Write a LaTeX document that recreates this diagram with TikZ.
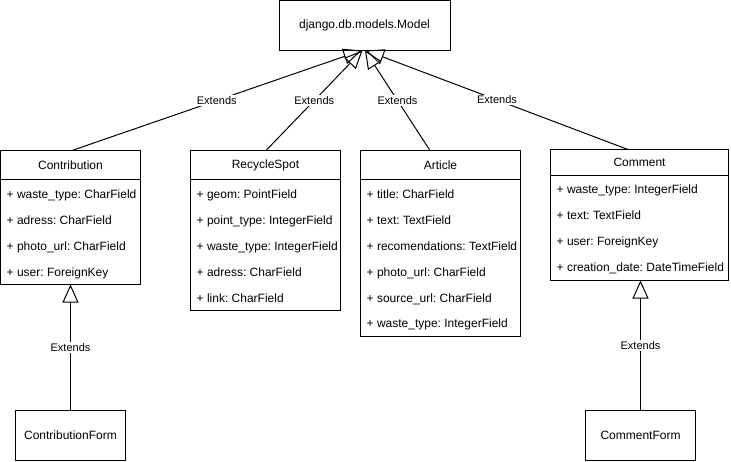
\documentclass[tikz,border=0pt]{standalone}
\usepackage{fontspec}
\setmainfont{Liberation Sans}
\usepackage{tikz}
\usetikzlibrary{positioning,arrows.meta,calc}
\frenchspacing

\begin{document}
\begin{tikzpicture}[x=1pt,y=-1pt,
  font=\fontsize{12}{14}\selectfont,
  box/.style={draw,line width=1pt,inner sep=0pt,outer sep=0pt},
  head/.style 2 args={box,anchor=north west,minimum width=#1,minimum height=#2},
  body/.style 2 args={box,anchor=north west,minimum width=#1,minimum height=#2},
  field/.style={anchor=west,inner sep=0pt,text height=8.6pt,text depth=0pt},
  lbl/.style={fill=white,inner sep=1pt,font=\fontsize{11}{13}\selectfont},
  ext/.style={-{Triangle[open,length=18pt,width=16pt]},line width=1pt}]
  \useasboundingbox (0,0) rectangle (731,461);

  \node[box,anchor=north west,minimum width=171,minimum height=50] (model) at (279,0.5)
    {django.db.models.Model};

  % model classes
  \node[head={140}{29}] (contribution) at (0.5,150.5) {Contribution};
  \node[body={140}{105}] (contribution-b) at (contribution.south west) {};
  \foreach \f [count=\i] in {+ waste\_type: CharField,+ adress: CharField,
      + photo\_url: CharField,+ user: ForeignKey}
    \node[field] (contribution-\i) at ($(contribution-b.north west)+(6,15+25.8*\i-25.8)$) {\f};

  \node[head={150}{29}] (recyclespot) at (190.5,150.5) {RecycleSpot};
  \node[body={150}{131}] (recyclespot-b) at (recyclespot.south west) {};
  \foreach \f [count=\i] in {+ geom: PointField,+ point\_type: IntegerField,
      + waste\_type: IntegerField,+ adress: CharField,+ link: CharField}
    \node[field] (recyclespot-\i) at ($(recyclespot-b.north west)+(6,15+25.8*\i-25.8)$) {\f};

  \node[head={160}{29}] (article) at (360.5,150.5) {Article};
  \node[body={160}{157}] (article-b) at (article.south west) {};
  \foreach \f [count=\i] in {+ title: CharField,+ text: TextField,
      + recomendations: TextField,+ photo\_url: CharField,+ source\_url: CharField,
      + waste\_type: IntegerField}
    \node[field] (article-\i) at ($(article-b.north west)+(6,15+25.8*\i-25.8)$) {\f};

  \node[head={178}{26}] (comment) at (550.5,149.5) {Comment};
  \node[body={178}{105}] (comment-b) at (comment.south west) {};
  \foreach \f [count=\i] in {+ waste\_type: IntegerField,+ text: TextField,
      + user: ForeignKey,+ creation\_date: DateTimeField}
    \node[field] (comment-\i) at ($(comment-b.north west)+(6,14+25.8*\i-25.8)$) {\f};

  % forms
  \node[box,anchor=north west,minimum width=110,minimum height=50] (contributionform)
    at (15.5,410.5) {ContributionForm};
  \node[box,anchor=north west,minimum width=110,minimum height=50] (commentform)
    at (585.5,410.5) {CommentForm};

  % inheritance
  \draw[ext] ([xshift=1.5]contribution.north) -- node[lbl] {Extends} ([xshift=-3]model.south);
  \draw[ext] ([xshift=0.5]recyclespot.north) -- node[lbl] {Extends} ([xshift=-2]model.south);
  \draw[ext] ([xshift=-10.5]article.north) -- node[lbl] {Extends} ([xshift=0.5]model.south);
  \draw[ext] ([xshift=-11.5]comment.north) -- node[lbl] {Extends} ([xshift=1.5]model.south);
  \draw[ext] (contributionform.north) -- node[lbl] {Extends} (contribution-b.south);
  \draw[ext] (commentform.north) -- node[lbl] {Extends} (commentform.north |- comment-b.south);
\end{tikzpicture}
\end{document}
